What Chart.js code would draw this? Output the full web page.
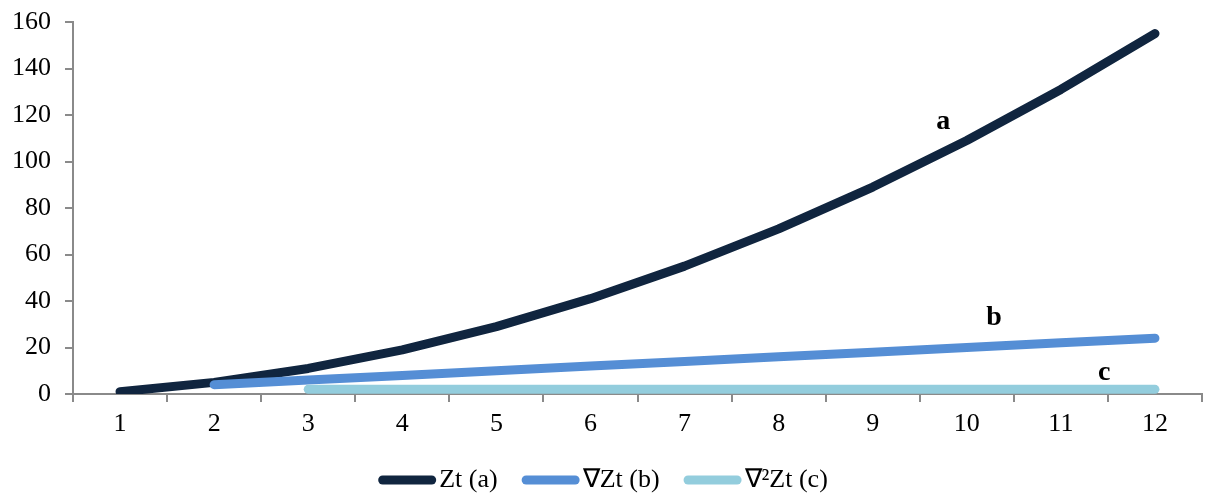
<!DOCTYPE html>
<html>
<head>
<meta charset="utf-8">
<script src="https://cdn.jsdelivr.net/npm/chart.js@4/dist/chart.umd.min.js"></script>
<style>
  html, body { margin: 0; padding: 0; background: #fff; }
  #wrap { width: 1206px; height: 495px; position: relative; }
</style>
</head>
<body>
<div id="wrap"><canvas id="c" width="1206" height="495"></canvas></div>
<script>
// Time index t = 1..12
const periods = ['1', '2', '3', '4', '5', '6', '7', '8', '9', '10', '11', '12'];
// Series and its first and second differences
const zt   = [1, 5, 11, 19, 29, 41, 55, 71, 89, 109, 131, 155];
const dZt  = [null, 4, 6, 8, 10, 12, 14, 16, 18, 20, 22, 24];
const d2Zt = [null, null, 2, 2, 2, 2, 2, 2, 2, 2, 2, 2];
const seriesNames = ['Zt (a)', '\u2207Zt (b)', '\u2207\u00B2Zt (c)'];
const seriesTags = ['a', 'b', 'c'];
const yMin = 0, yMax = 160, yStep = 20;

const colors = ['#10253f', '#558ed5', '#93cddd'];
const serif = '"Liberation Serif", "Times New Roman", serif';
const axisGray = '#8a8a8a';

// Where each curve's tag letter sits, in (category index, value) space
const tagAnchors = [
  { x: 8.75, y: 117 },
  { x: 9.29, y: 32.7 },
  { x: 10.46, y: 9.0 }
];

const tagPlugin = {
  id: 'curveTags',
  afterDatasetsDraw(chart) {
    const { ctx, scales } = chart;
    ctx.save();
    ctx.font = 'bold 28px ' + serif;
    ctx.fillStyle = '#000';
    ctx.textAlign = 'center';
    ctx.textBaseline = 'middle';
    seriesTags.forEach((t, i) => {
      const a = tagAnchors[i];
      ctx.fillText(t, scales.x.getPixelForValue(a.x), scales.y.getPixelForValue(a.y));
    });
    ctx.restore();
  }
};

// Bottom legend: rounded line swatch followed closely by its label
const legendPlugin = {
  id: 'bottomLegend',
  afterDraw(chart) {
    const { ctx } = chart;
    const lineLen = 58, textGap = 3, itemGap = 24, cy = 480;
    ctx.save();
    ctx.font = '26px ' + serif;
    const widths = seriesNames.map(n => lineLen + textGap + ctx.measureText(n).width);
    const total = widths.reduce((s, w) => s + w, 0) + itemGap * (widths.length - 1);
    let x = (chart.width - total) / 2;
    chart.data.datasets.forEach((ds, i) => {
      ctx.strokeStyle = ds.borderColor;
      ctx.lineWidth = 9;
      ctx.lineCap = 'round';
      ctx.beginPath();
      ctx.moveTo(x + 4.5, cy);
      ctx.lineTo(x + lineLen - 4.5, cy);
      ctx.stroke();
      ctx.fillStyle = '#000';
      ctx.textAlign = 'left';
      ctx.textBaseline = 'middle';
      ctx.fillText(seriesNames[i], x + lineLen + textGap, cy);
      x += widths[i] + itemGap;
    });
    ctx.restore();
  }
};

const mkSet = (label, data, color, order) => ({
  label, data,
  borderColor: color,
  backgroundColor: color,
  borderWidth: 9,
  borderCapStyle: 'round',
  borderJoinStyle: 'round',
  pointRadius: 0,
  pointHoverRadius: 0,
  tension: 0,
  fill: false,
  order
});

new Chart(document.getElementById('c'), {
  type: 'line',
  data: {
    labels: periods,
    datasets: [
      mkSet(seriesNames[0], zt, colors[0], 3),
      mkSet(seriesNames[1], dZt, colors[1], 2),
      mkSet(seriesNames[2], d2Zt, colors[2], 1)
    ]
  },
  options: {
    responsive: false,
    devicePixelRatio: 1,
    animation: false,
    layout: { padding: { left: 0, right: 4, top: 22, bottom: 0 } },
    plugins: { legend: { display: false }, tooltip: { enabled: false } },
    scales: {
      x: {
        type: 'category',
        offset: true,
        afterFit(s) { s.height = 101; s.paddingLeft = 0; s.paddingRight = 0; },
        grid: { offset: true, drawOnChartArea: false, drawTicks: true, tickLength: 8, color: axisGray, lineWidth: 2 },
        border: { display: true, color: axisGray, width: 2 },
        ticks: { color: '#000', font: { family: serif, size: 26 }, padding: 7, maxRotation: 0 }
      },
      y: {
        min: yMin, max: yMax,
        afterFit(s) { s.width = 73; s.paddingTop = 0; s.paddingBottom = 0; },
        grid: { drawOnChartArea: false, drawTicks: true, tickLength: 8, color: axisGray, lineWidth: 2 },
        border: { display: true, color: axisGray, width: 2 },
        ticks: { stepSize: yStep, color: '#000', font: { family: serif, size: 26 }, padding: 14 }
      }
    }
  },
  plugins: [tagPlugin, legendPlugin]
});
</script>
</body>
</html>
